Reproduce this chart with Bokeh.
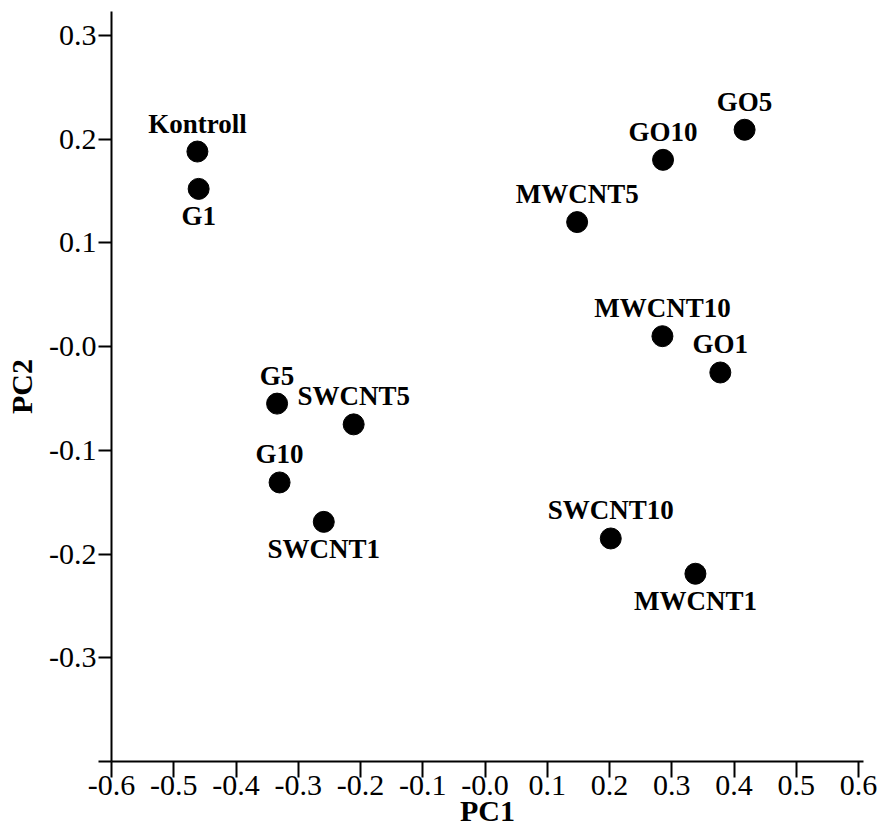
from bokeh.plotting import figure
from bokeh.models import ColumnDataSource, FixedTicker, Range1d
from bokeh.core.properties import value
from bokeh.embed import file_html
from bokeh.resources import INLINE

# PCA scores per treatment
samples = ["Kontroll", "G1", "G5", "G10", "SWCNT1", "SWCNT5", "SWCNT10",
           "MWCNT1", "MWCNT5", "MWCNT10", "GO1", "GO5", "GO10"]
pc1 = [-0.462, -0.460, -0.334, -0.330, -0.259, -0.211, 0.202,
       0.338, 0.148, 0.285, 0.378, 0.417, 0.286]
pc2 = [0.188, 0.152, -0.055, -0.131, -0.169, -0.075, -0.185,
       -0.219, 0.120, 0.010, -0.025, 0.209, 0.180]

# names whose label sits under the point instead of above it
labels_below = ["G1", "SWCNT1", "MWCNT1"]

x_ticks = [-0.6, -0.5, -0.4, -0.3, -0.2, -0.1, 0.0, 0.1, 0.2, 0.3, 0.4, 0.5, 0.6]
x_tick_labels = ["-0.6", "-0.5", "-0.4", "-0.3", "-0.2", "-0.1", "-0.0",
                 "0.1", "0.2", "0.3", "0.4", "0.5", "0.6"]
y_ticks = [-0.4, -0.3, -0.2, -0.1, 0.0, 0.1, 0.2, 0.3]
y_tick_labels = ["", "-0.3", "-0.2", "-0.1", "-0.0", "0.1", "0.2", "0.3"]

FONT = "Liberation Serif"

p = figure(frame_width=752, frame_height=750,
           x_range=Range1d(-0.6, 0.608), y_range=Range1d(-0.4, 0.323),
           output_backend="svg", toolbar_location=None,
           min_border_left=111, min_border_top=11,
           min_border_right=18, min_border_bottom=60)
p.background_fill_color = "white"
p.border_fill_color = "white"
p.outline_line_color = None
p.xgrid.visible = False
p.ygrid.visible = False

src = ColumnDataSource(dict(x=pc1, y=pc2, name=samples))
p.scatter("x", "y", source=src, size=21, fill_color="black", line_color="black")

above = [i for i, s in enumerate(samples) if s not in labels_below]
below = [i for i, s in enumerate(samples) if s in labels_below]

src_above = ColumnDataSource(dict(x=[pc1[i] for i in above],
                                  y=[pc2[i] for i in above],
                                  name=[samples[i] for i in above]))
src_below = ColumnDataSource(dict(x=[pc1[i] for i in below],
                                  y=[pc2[i] for i in below],
                                  name=[samples[i] for i in below]))

label_style = dict(text_font=value(FONT), text_font_style="bold",
                   text_font_size="27px", text_color="black",
                   text_align="center", text_baseline="alphabetic")
p.text("x", "y", text="name", source=src_above, y_offset=-28, **label_style)
p.text("x", "y", text="name", source=src_below, y_offset=27, **label_style)

# axes
for ax in (p.xaxis[0], p.yaxis[0]):
    ax.axis_line_width = 2
    ax.axis_line_color = "black"
    ax.major_tick_line_width = 2
    ax.major_tick_line_color = "black"
    ax.minor_tick_line_color = None
    ax.major_tick_in = 0
    ax.major_label_text_font = FONT
    ax.major_label_text_font_size = "30px"
    ax.major_label_text_color = "black"
    ax.axis_label_text_font = FONT
    ax.axis_label_text_font_style = "bold"
    ax.axis_label_text_font_size = "30px"
    ax.axis_label_text_color = "black"

xa = p.xaxis[0]
xa.ticker = FixedTicker(ticks=x_ticks)
xa.major_label_overrides = dict(zip(x_ticks, x_tick_labels))
xa.major_tick_out = 16
xa.major_label_standoff = -2
xa.axis_label = "PC1"
xa.axis_label_standoff = -4

ya = p.yaxis[0]
ya.ticker = FixedTicker(ticks=y_ticks)
ya.major_label_overrides = dict(zip(y_ticks, y_tick_labels))
ya.major_tick_out = 13
ya.major_label_standoff = 2
ya.axis_label = "PC2"
ya.axis_label_standoff = 8

open("out.html", "w").write(file_html(p, INLINE))
